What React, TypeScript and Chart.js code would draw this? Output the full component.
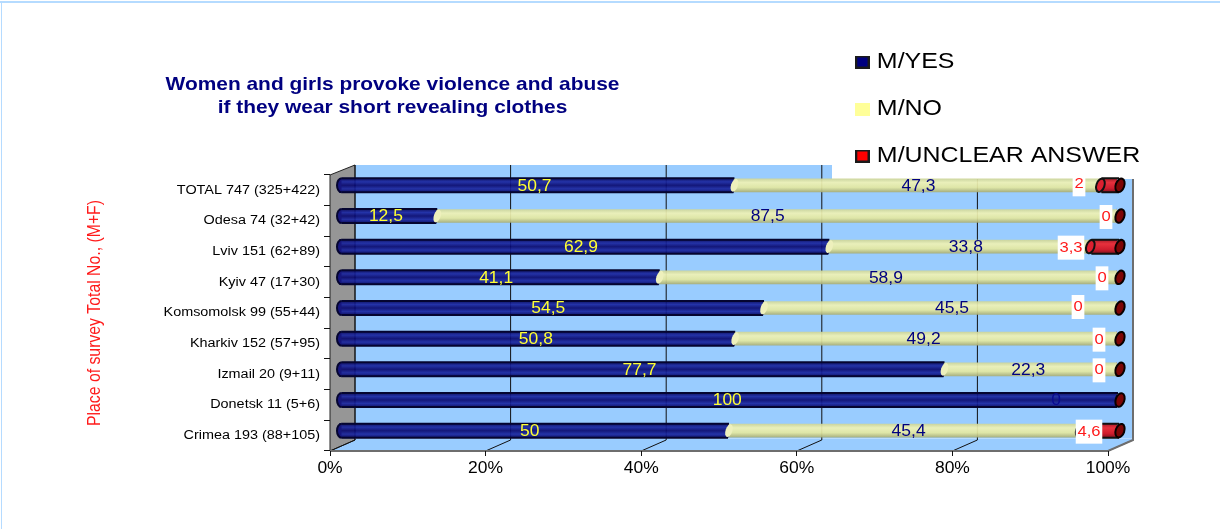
import React, { useEffect, useRef } from "react";
import { Chart, registerables } from "chart.js";

Chart.register(...registerables);

const categories = [
  "TOTAL 747 (325+422)", "Odesa 74 (32+42)", "Lviv 151 (62+89)", "Kyiv 47 (17+30)",
  "Komsomolsk 99 (55+44)", "Kharkiv 152 (57+95)", "Izmail 20 (9+11)", "Donetsk 11 (5+6)", "Crimea 193 (88+105)",
];
const yesValues = [50.7, 12.5, 62.9, 41.1, 54.5, 50.8, 77.7, 100, 50];
const noValues = [47.3, 87.5, 33.8, 58.9, 45.5, 49.2, 22.3, 0, 45.4];
const unclearValues = [2, 0, 3.3, 0, 0, 0, 0, 0, 4.6];
const seriesNames = ["M/YES", "M/NO", "M/UNCLEAR ANSWER"];
const titleLines = ["Women and girls provoke violence and abuse", "if they wear short revealing clothes"];
const yAxisTitle = "Place of survey Total No., (M+F)";

// hand-placed label nudges of the original (px from a segment's centre or end)
const yesNudge = [-2, -2, -3, -3, -3, -1, -2, -1, -4];
const noNudge = [1, -9, 6, -2, 12, -2, -2, -61, 4];
const unclearNudge = [-38, -11, -46, -15, -39, -18, -18, 0, -28];
const unclearRowNudge = [-2, 0, 0, 0, -2, 0, 0, 0, 0];

const FONT = "'Liberation Sans', Arial, sans-serif";
const DX = 9;
const DY = -5;
const WALL_X = 25;
const WALL_Y = -11;
const STRETCH = 1.12;

type Stop = [number, string];
const blueStops: Stop[] = [[0, "rgba(5,5,90,0.92)"], [0.25, "rgba(26,38,160,0.92)"], [0.5, "rgba(8,8,110,0.92)"], [0.75, "rgba(26,38,160,0.92)"], [1, "rgba(5,5,95,0.92)"]];
const yellowStops: Stop[] = [[0, "rgba(205,212,150,0.92)"], [0.3, "rgba(240,242,180,0.92)"], [0.65, "rgba(228,232,160,0.92)"], [1, "rgba(165,170,115,0.92)"]];
const redStops: Stop[] = [[0, "rgba(170,20,30,0.95)"], [0.3, "rgba(235,40,50,0.95)"], [0.7, "rgba(210,20,35,0.95)"], [1, "rgba(130,10,20,0.95)"]];

function gradientFor(stops: Stop[], fallback: string) {
  return (ctx: any) => {
    const s = ctx.chart.scales?.y;
    if (!s || ctx.dataIndex === undefined) return fallback;
    const y = s.getPixelForValue(ctx.dataIndex);
    const g = ctx.chart.ctx.createLinearGradient(0, y - 7, 0, y + 7);
    stops.forEach(([p, col]) => g.addColorStop(p, col));
    return g;
  };
}

function ellipse(c: CanvasRenderingContext2D, x: number, y: number, rx: number, ry: number, rot: number, fill: string, stroke?: string, lw = 1.5) {
  c.beginPath();
  c.ellipse(x, y, rx, ry, rot, 0, Math.PI * 2);
  c.fillStyle = fill;
  c.fill();
  if (stroke) {
    c.strokeStyle = stroke;
    c.lineWidth = lw;
    c.stroke();
  }
}

// the original picture is wider than tall: text is stretched sideways
function stretchedText(c: CanvasRenderingContext2D, txt: string, x: number, y: number) {
  c.save();
  c.translate(x, y);
  c.scale(STRETCH, 1);
  c.fillText(txt, 0, 0);
  c.restore();
}
function wrapStretch(box: any, sx: number, anchor: () => number, method = "draw") {
  if (box.__wrapped?.[method]) return;
  box.__wrapped = { ...(box.__wrapped || {}), [method]: true };
  const orig = box[method];
  box[method] = function (...args: any[]) {
    const c = this.ctx;
    const ax = anchor();
    c.save();
    c.translate(ax, 0);
    c.scale(sx, 1);
    c.translate(-ax, 0);
    orig.apply(this, args);
    c.restore();
  };
}
function stretchTickLabels(scale: any, sx: number) {
  scale.drawLabels = function () {
    const c = this.ctx;
    this.getLabelItems().forEach((it: any) => {
      c.save();
      c.translate(it.options.translation[0], it.options.translation[1]);
      c.scale(sx, 1);
      c.font = it.font.string;
      c.fillStyle = it.color;
      c.textAlign = it.options.textAlign;
      c.textBaseline = it.options.textBaseline;
      c.fillText(it.label, 0, it.textOffset);
      c.restore();
    });
  };
}

const scenePlugin = {
  id: "scene",
  afterLayout(chart: any) {
    const t = chart.titleBlock;
    if (t) {
      t.left = 164;
      t.right = 621;
      wrapStretch(t, 1.13, () => (t.left + t.right) / 2);
    }
    const l = chart.legend;
    if (l) {
      const w = l.width, h = l.height;
      l.left = 835; l.top = 26; l.right = 835 + w; l.bottom = 26 + h;
      wrapStretch(l, 1.134, () => 857);
    }
    stretchTickLabels(chart.scales.x, STRETCH);
    stretchTickLabels(chart.scales.y, 1.2);
    wrapStretch(chart.scales.y, 1.2, () => 93, "drawTitle");
  },
  beforeDraw(chart: any) {
    const c: CanvasRenderingContext2D = chart.ctx;
    const a = chart.chartArea;
    const x = chart.scales.x;
    c.save();
    c.fillStyle = "#fff";
    c.fillRect(0, 0, chart.width, chart.height);
    c.fillStyle = "#b5dbff";
    c.fillRect(0, 1, chart.width, 2);
    c.fillRect(1, 1, 1, chart.height);
    const bx = a.left + WALL_X, by = a.bottom + WALL_Y, tx = a.right + WALL_X, ty = a.top + WALL_Y + 1;
    c.fillStyle = "#99ccff";
    c.beginPath();
    c.moveTo(bx, ty); c.lineTo(tx, ty); c.lineTo(tx, by); c.lineTo(a.right, a.bottom); c.lineTo(a.left, a.bottom); c.lineTo(bx, by);
    c.closePath();
    c.fill();
    c.fillStyle = "#969696";
    c.strokeStyle = "#222";
    c.lineWidth = 1;
    c.beginPath();
    c.moveTo(a.left, a.top); c.lineTo(bx, ty); c.lineTo(bx, by); c.lineTo(a.left, a.bottom);
    c.closePath();
    c.fill();
    c.stroke();
    c.strokeStyle = "#b9dcff";
    c.beginPath(); c.moveTo(bx, by - 1.5); c.lineTo(tx, by - 1.5); c.stroke();
    c.strokeStyle = "#111";
    x.ticks.forEach((tick: any) => {
      const px = x.getPixelForValue(tick.value);
      c.beginPath();
      c.moveTo(px, a.bottom);
      c.lineTo(px + WALL_X, by);
      if (tick.value < 100) c.lineTo(px + WALL_X, ty);
      c.stroke();
    });
    c.strokeStyle = "#6e6e6e";
    c.lineWidth = 2;
    c.beginPath(); c.moveTo(tx, ty); c.lineTo(tx, by); c.lineTo(a.right, a.bottom); c.lineTo(a.left, a.bottom); c.stroke();
    c.fillStyle = "#fff";
    c.fillRect(832, 3, chart.width - 832, 176);
    c.restore();
  },
  beforeDatasetsDraw(chart: any) {
    chart.ctx.save();
    chart.ctx.translate(DX, DY);
  },
  afterDatasetsDraw(chart: any) {
    const c: CanvasRenderingContext2D = chart.ctx;
    const [m0, m1, m2] = [0, 1, 2].map((i) => chart.getDatasetMeta(i));
    const tilt = 0.33;
    categories.forEach((_, i) => {
      const yes = m0.data[i], no = m1.data[i], red = m2.data[i];
      const y = yes.y;
      const top = y - 7, bot = y + 7;
      // rounded start of the bar: left half of an ellipse, joined to the edges
      c.beginPath();
      c.ellipse(yes.base + 2, y, 4.5, 7, 0, Math.PI / 2, (3 * Math.PI) / 2);
      c.fillStyle = "#16167f";
      c.fill();
      c.strokeStyle = "#050530";
      c.lineWidth = 2;
      c.stroke();
      c.beginPath();
      c.moveTo(yes.base + 2, top); c.lineTo(yes.x + 1, top);
      c.moveTo(yes.base + 2, bot); c.lineTo(yes.x, bot);
      c.stroke();
      if (noValues[i] > 0) ellipse(c, yes.x + 1, y, 3.4, 6.6, tilt, "#eef0bc");
      if (unclearValues[i] > 0) {
        c.strokeStyle = "#111";
        c.lineWidth = 2;
        c.beginPath();
        c.moveTo(no.x, top); c.lineTo(red.x + 2, top);
        c.moveTo(no.x, bot); c.lineTo(red.x + 2, bot);
        c.stroke();
        ellipse(c, no.x - 1, y, 4, 6.8, tilt, "#dd2030", "#111", 2);
      }
      ellipse(c, red.x + 3, y, 4.3, 7, tilt, "#7d0505", "#080000", 2);
    });
    c.textBaseline = "middle";
    c.textAlign = "center";
    categories.forEach((_, i) => {
      const yes = m0.data[i], no = m1.data[i], red = m2.data[i];
      const y = yes.y + 1;
      c.font = `15.6px ${FONT}`;
      c.fillStyle = "#ffff33";
      stretchedText(c, String(yesValues[i]).replace(".", ","), (yes.base + yes.x) / 2 + yesNudge[i], y);
      c.fillStyle = i === 7 ? "#0a0a90" : "#000080";
      stretchedText(c, String(noValues[i]).replace(".", ","), (yes.x + no.x) / 2 + noNudge[i], y);
      if (i !== 7) {
        const txt = String(unclearValues[i]).replace(".", ",");
        c.font = `14.8px ${FONT}`;
        const w = c.measureText(txt).width * STRETCH + 3.5;
        const cx = red.x + unclearNudge[i];
        const cy = y + unclearRowNudge[i];
        c.fillStyle = "#fff";
        c.fillRect(cx - w / 2, cy - 12, w, 24);
        c.fillStyle = "#ff1a1a";
        stretchedText(c, txt, cx, cy);
      }
    });
    c.restore();
  },
};

function swatch(fill: string, border: string | null) {
  const s = document.createElement("canvas");
  s.width = 13; s.height = 13;
  const c = s.getContext("2d")!;
  c.fillStyle = fill;
  c.fillRect(0, 0, 13, 13);
  if (border) {
    c.strokeStyle = border;
    c.lineWidth = 2;
    c.strokeRect(1, 1, 11, 11);
  }
  return s;
}

export default function App() {
  const ref = useRef<HTMLCanvasElement>(null);
  useEffect(() => {
    const swatches = [swatch("#000080", "#1a1a1a"), swatch("#ffff99", null), swatch("#ff0000", "#1a1a1a")];
    const chart = new Chart(ref.current!, {
      type: "bar",
      data: {
        labels: categories,
        datasets: [
          { label: seriesNames[0], data: yesValues, backgroundColor: gradientFor(blueStops, "#000080"), barThickness: 14, borderWidth: 0 },
          { label: seriesNames[1], data: noValues, backgroundColor: gradientFor(yellowStops, "#ffff99"), barThickness: 13, borderWidth: 0 },
          { label: seriesNames[2], data: unclearValues, backgroundColor: gradientFor(redStops, "#ff0000"), barThickness: 14, borderWidth: 0 },
        ],
      } as any,
      plugins: [scenePlugin],
      options: {
        indexAxis: "y",
        responsive: false,
        animation: false,
        layout: { padding: { left: 0, right: 112, top: 0, bottom: 0 } },
        plugins: {
          tooltip: { enabled: false },
          title: {
            display: true,
            text: titleLines,
            color: "#000080",
            font: { family: FONT, size: 18.5, weight: "bold", lineHeight: 1.243 },
            padding: { top: 73, bottom: 56 },
          },
          legend: {
            display: true,
            position: "chartArea",
            align: "start",
            labels: {
              usePointStyle: true,
              pointStyleWidth: 3.5,
              padding: 25,
              color: "#000",
              font: { family: FONT, size: 22 },
              generateLabels: () => seriesNames.map((text, i) => ({ text, pointStyle: swatches[i], datasetIndex: i, hidden: false })),
            },
          },
        },
        scales: {
          x: {
            stacked: true,
            min: 0,
            max: 100,
            afterFit: (s: any) => { s.height = 78; },
            ticks: { stepSize: 20, callback: (v: any) => `${v}%`, color: "#000", font: { family: FONT, size: 15.6 }, padding: 3, maxRotation: 0 },
            grid: { drawOnChartArea: false, drawTicks: true, tickLength: 5, color: "#111" },
            border: { display: false },
          },
          y: {
            stacked: true,
            afterFit: (s: any) => { s.width = 330; },
            ticks: { color: "#000", font: { family: FONT, size: 12 }, padding: 4, autoSkip: false },
            grid: { drawOnChartArea: false, drawTicks: true, tickLength: 6, color: "#111" },
            border: { display: false },
            title: {
              display: true,
              text: yAxisTitle,
              color: "#ff1a1a",
              font: { family: FONT, size: 15.8 },
              padding: { top: 85, bottom: 0 },
            },
          },
        },
      } as any,
    });
    return () => chart.destroy();
  }, []);
  return (
    <div style={{ position: "absolute", left: 0, top: 0, width: 1220, height: 529, overflow: "hidden", background: "#fff" }}>
      <canvas ref={ref} width={1220} height={529} style={{ display: "block" }} />
    </div>
  );
}
